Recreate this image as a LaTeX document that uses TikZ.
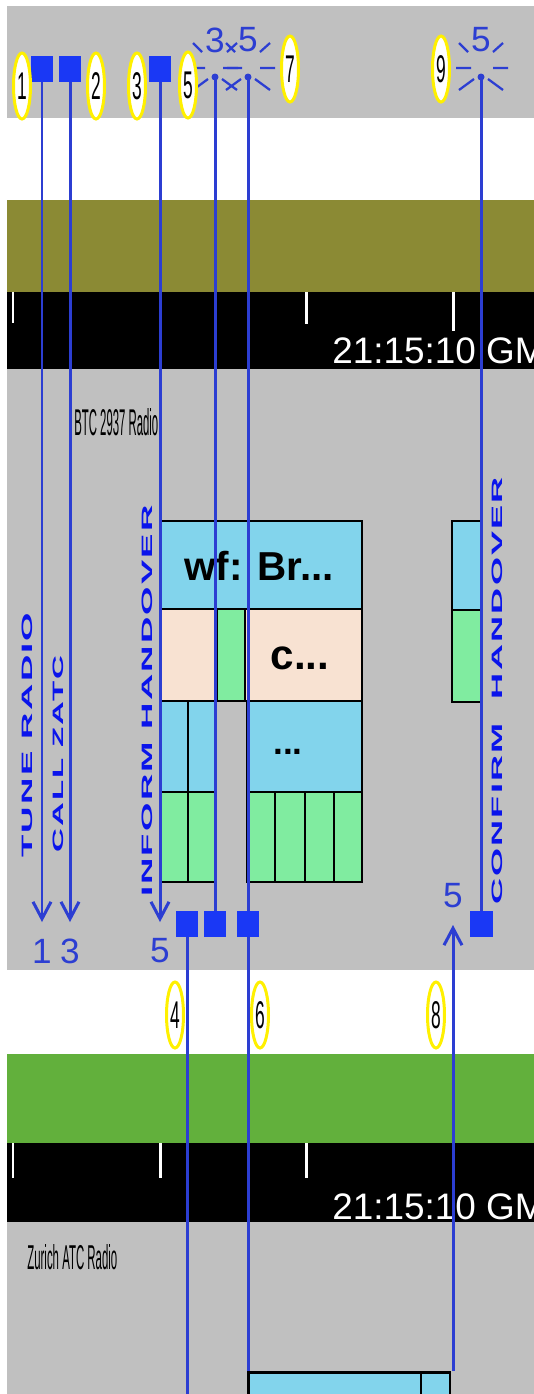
\documentclass[tikz,border=0pt]{standalone}
\usepackage{fontspec}
\setmainfont{Liberation Sans}
\newfontfamily\spacedfont[LetterSpace=6]{Liberation Sans}
\usetikzlibrary{shapes.geometric, arrows.meta}

\definecolor{panelgray}{RGB}{192,192,192}
\definecolor{olivebar}{RGB}{139,138,52}
\definecolor{greenbar}{RGB}{98,176,60}
\definecolor{msgblue}{RGB}{44,62,210}
\definecolor{sqblue}{RGB}{26,56,245}
\definecolor{lblblue}{RGB}{10,20,235}
\definecolor{actblue}{RGB}{130,212,236}
\definecolor{actpeach}{RGB}{248,226,210}
\definecolor{actgreen}{RGB}{128,236,160}
\definecolor{tagyellow}{RGB}{255,240,0}

\newcommand\tagnum[1]{\scalebox{0.45}[1]{#1}}

\begin{document}
\begin{tikzpicture}[x=0.02cm, y=-0.02cm,
    sender/.style={fill=sqblue, minimum width=0.46cm, minimum height=0.52cm, inner sep=0pt},
    tag/.style={ellipse, draw=tagyellow, line width=0.06cm, fill=white, minimum width=0.34cm, minimum height=1.32cm, inner sep=0pt, font=\fontsize{22}{22}\selectfont},
    msg/.style={draw=msgblue, line width=0.06cm},
    msgarrow/.style={msg, -{Straight Barb[length=0.34cm, width=0.36cm]}},
    ray/.style={draw=msgblue, line width=0.045cm},
    cell/.style={draw=black, line width=0.05cm},
    vlabel/.style={rotate=90, text=lblblue, inner sep=0pt, font=\spacedfont\bfseries},
    count/.style={text=msgblue, inner sep=0pt, font=\fontsize{20}{20}\selectfont},
    tick/.style={draw=white, line width=0.06cm},
    clock/.style={text=white, inner sep=0pt, anchor=base west, font=\fontsize{21}{21}\selectfont},
    lane/.style={inner sep=0pt, anchor=north west},
    celltext/.style={inner sep=0pt, font=\bfseries},
    burst/.pic={
      \fill[msgblue] (0,0) circle (0.07cm);
      \draw[ray] (-22,-34) -- (-13,-25) (12,-25) -- (22,-34)
                 (-25,-9) -- (-10,-9) (12,-9) -- (27,-9)
                 (-22,13) -- (-7,2) (7,2) -- (22,13);
    }
]
    \useasboundingbox (0,0) rectangle (534,1394);
    \clip (0,0) rectangle (534,1394);

    % lanes
    \fill[white] (0,0) rectangle (534,1394);
    \fill[panelgray] (7,6) rectangle (534,118);
    \fill[olivebar] (7,200) rectangle (534,292);
    \fill[black] (7,292) rectangle (534,369);
    \fill[panelgray] (7,369) rectangle (534,970);
    \fill[greenbar] (7,1054) rectangle (534,1143);
    \fill[black] (7,1143) rectangle (534,1222);
    \fill[panelgray] (7,1222) rectangle (534,1394);

    \draw[tick] (13,292) -- (13,323) (306,292) -- (306,324) (453,292) -- (453,331);
    \draw[tick] (13,1143) -- (13,1178) (160,1143) -- (160,1178) (306,1143) -- (306,1178);
    \node[clock] (clocktop) at (332,363) {21:15:10 GM};
    \node[clock] (clockbot) at (332,1219) {21:15:10 GM};

    \node[lane] (btc) at (74,408) {\resizebox{1.68cm}{0.54cm}{BTC 2937 Radio}};
    \node[lane] (zurich) at (27,1244) {\resizebox{1.8cm}{0.5cm}{Zurich ATC Radio}};

    % activity cells
    \draw[cell, fill=actblue] (161,521) rectangle (362,609);
    \draw[cell, fill=actpeach] (161,609) rectangle (217,701);
    \draw[cell, fill=actgreen] (217,609) rectangle (245,701);
    \draw[cell, fill=actpeach] (245,609) rectangle (362,701);
    \draw[cell, fill=actblue] (161,701) rectangle (188,792);
    \draw[cell, fill=actblue] (188,701) rectangle (215,792);
    \draw[cell, fill=actblue] (247,701) rectangle (362,792);
    \foreach \a/\b in {161/188, 188/215, 247/275, 275/305, 305/334, 334/362}
      \draw[cell, fill=actgreen] (\a,792) rectangle (\b,882);
    \draw[cell, fill=actblue] (452,521) rectangle (481,610);
    \draw[cell, fill=actgreen] (452,610) rectangle (481,702);
    \node[celltext, font=\bfseries\fontsize{23}{23}\selectfont] (wf) at (259,566) {wf: Br...};
    \node[celltext, font=\bfseries\fontsize{24}{24}\selectfont] (cdots) at (300,658) {c...};
    \node[celltext, font=\bfseries\fontsize{20}{20}\selectfont] (dots) at (288,752) {...};

    \node[cell, fill=actblue, anchor=north west, minimum width=4.04cm, minimum height=1cm, inner sep=0pt] (zbox) at (247,1371) {};
    \draw[cell] (421,1371) -- (421,1420);

    % messages
    \node[sender] (sq1) at (42,69) {};
    \node[sender] (sq2) at (70,69) {};
    \node[sender] (sq3) at (160,69) {};
    \node[sender] (sq4) at (187,924) {};
    \node[sender] (sq5) at (215,924) {};
    \node[sender] (sq6) at (248,924) {};
    \node[sender] (sq9) at (481,924) {};

    \coordinate (tip1) at (42,922);
    \coordinate (tip2) at (70,922);
    \coordinate (tip3) at (160,922);
    \coordinate (low4) at (187,1394);
    \coordinate (out8) at (453,1371);
    \coordinate (in8) at (453,925);
    \coordinate (b1) at (215,77);
    \coordinate (b2) at (248,77);
    \coordinate (b9) at (481,77);

    \draw[msgarrow] (sq1) -- (tip1);
    \draw[msgarrow] (sq2) -- (tip2);
    \draw[msgarrow] (sq3) -- (tip3);
    \draw[msg] (sq4) -- (low4);
    \draw[msg] (sq5) -- (b1);
    \draw[msg] (b2) -- (sq6) -- (sq6 |- zbox.north);
    \draw[msg] (sq9) -- (b9);
    \draw[msgarrow] (out8) -- (in8);

    \pic at (b1) {burst};
    \pic at (b2) {burst};
    \pic at (b9) {burst};
    \node[count] (n1) at (215,40) {3};
    \node[count] (n2) at (248,40) {5};
    \node[count] (n9) at (481,40) {5};

    \node[count] (c1) at (42,951) {1};
    \node[count] (c2) at (70,951) {3};
    \node[count] (c3) at (160,951) {5};
    \node[count] (c8) at (453,896) {5};

    \node[vlabel] (tune) at (27,735) {\resizebox{4.9cm}{0.21cm}{TUNE RADIO}};
    \node[vlabel] (call) at (58,754) {\resizebox{3.94cm}{0.21cm}{CALL ZATC}};
    \node[vlabel] (inform) at (147,701) {\resizebox{7.84cm}{0.21cm}{INFORM HANDOVER}};
    \node[vlabel] (confirm) at (497,691) {\resizebox{8.56cm}{0.21cm}{CONFIRM\ \ HANDOVER}};

    % tags
    \node[tag] (t1) at (22,86) {\tagnum{1}};
    \node[tag] (t2) at (96,86) {\tagnum{2}};
    \node[tag] (t3) at (137,86) {\tagnum{3}};
    \node[tag] (t5) at (188,85) {\tagnum{5}};
    \node[tag] (t7) at (290,69) {\tagnum{7}};
    \node[tag] (t9) at (441,69) {\tagnum{9}};
    \node[tag] (t4) at (175,1015) {\tagnum{4}};
    \node[tag] (t6) at (260,1015) {\tagnum{6}};
    \node[tag] (t8) at (436,1015) {\tagnum{8}};
\end{tikzpicture}
\end{document}
